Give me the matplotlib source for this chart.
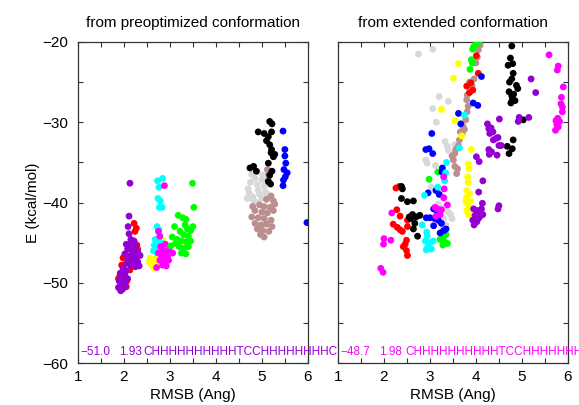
import matplotlib
matplotlib.use("Agg")
import matplotlib.pyplot as plt

plt.rcParams['font.family'] = ['Liberation Sans', 'DejaVu Sans']

# ---------------- Left panel: from preoptimized conformation ----------------
L_lightgray = [(4.70,-38.3),(4.75,-37.5),(4.85,-37.0),(4.90,-37.8),(4.72,-38.8),(4.80,-39.3),(4.92,-38.5),
               (5.00,-37.2),(5.05,-38.0),(4.82,-39.8),(4.95,-39.0),(5.08,-38.7),(4.88,-40.0),(5.00,-39.5),
               (5.12,-39.0),(4.78,-36.5),(4.68,-39.5),(5.02,-36.6),(4.90,-36.2)]
L_rosybrown = [(5.12,-35.9),(5.14,-37.2),(5.15,-36.5),(5.20,-39.2),(5.10,-39.6),(5.25,-39.8),(4.95,-40.3),
               (5.05,-40.5),(5.18,-40.6),(4.85,-41.0),(5.00,-41.2),(5.12,-41.3),(5.25,-41.0),(4.78,-41.8),
               (4.92,-41.9),(5.05,-42.0),(5.20,-42.2),(4.85,-42.6),(4.98,-42.8),(5.10,-42.7),(5.22,-43.0),
               (4.90,-43.3),(5.02,-43.5),(5.15,-43.6),(4.97,-44.0),(5.05,-44.3),(4.80,-40.5),(5.28,-40.2)]
L_black = [(5.17,-29.9),(5.22,-30.2),(5.21,-31.2),(4.92,-31.2),(5.05,-31.4),(5.14,-31.8),(5.10,-32.3),
           (5.17,-32.8),(5.21,-33.4),(5.25,-34.3),(5.14,-35.1),(4.74,-35.7),(4.82,-35.5),(4.88,-36.1),
           (5.17,-36.6),(5.22,-36.1),(5.14,-37.4),(5.19,-37.7),(5.28,-34.0),(5.20,-33.8)]
L_blue = [(5.46,-31.1),(5.50,-33.4),(5.50,-34.2),(5.52,-35.1),(5.48,-35.9),(5.55,-36.3),(5.51,-36.8),
          (5.47,-37.2),(5.46,-37.9),(5.98,-42.5)]
L_red = [(2.22,-42.6),(2.27,-43.2),(2.24,-43.6),(2.28,-45.3),(2.30,-45.8),(2.20,-46.5),(1.98,-46.9),
         (2.12,-47.2),(1.95,-47.8),(2.25,-47.8),(2.13,-48.4),(1.91,-49.2),(2.06,-49.8),(1.98,-50.2),
         (2.05,-50.5),(1.88,-49.5)]
L_purple = [(2.13,-37.6),(2.11,-41.7),(2.09,-43.0),(2.11,-43.9),(2.15,-44.6),(2.22,-44.8),(2.05,-45.2),
            (2.12,-45.3),(2.25,-45.5),(2.08,-45.8),(2.18,-46.0),(2.30,-46.2),(2.02,-46.4),(2.14,-46.6),
            (2.26,-46.8),(2.35,-46.6),(2.10,-47.0),(2.20,-47.2),(2.30,-47.4),(2.05,-47.6),(2.15,-47.8),
            (2.25,-48.0),(2.33,-47.9),(1.98,-48.2),(2.05,-48.5),(1.92,-48.8),(2.02,-49.0),(1.95,-49.3),
            (2.08,-49.5),(1.90,-49.8),(2.00,-50.0),(1.93,-50.3),(2.03,-50.4),(1.88,-50.6),(1.97,-50.8),
            (1.93,-51.0)]
L_yellow = [(2.57,-46.9),(2.62,-47.3),(2.60,-47.8),(2.66,-48.2),(2.72,-47.9),(2.85,-44.7),(2.55,-47.4),
            (2.68,-47.0),(2.75,-47.6)]
L_cyan = [(2.73,-37.3),(2.84,-37.0),(2.76,-38.1),(2.74,-39.5),(2.79,-39.8),(2.77,-40.6),(2.83,-40.6),
          (2.72,-43.0),(2.76,-43.4),(2.68,-44.6),(2.75,-44.8),(2.82,-45.0),(2.66,-45.3),(2.72,-45.5),
          (2.80,-45.6),(2.64,-46.0),(2.70,-46.2),(2.77,-45.9),(2.85,-45.3)]
L_magenta = [(2.88,-37.9),(2.75,-43.6),(2.78,-44.2),(2.80,-45.5),(2.90,-45.2),(2.98,-45.9),(2.85,-46.0),
             (2.75,-46.3),(2.92,-46.4),(3.06,-46.3),(2.82,-46.8),(2.95,-46.8),(2.78,-47.2),(2.88,-47.4),
             (2.97,-47.2),(2.84,-47.8),(2.71,-48.1),(2.92,-47.9)]
L_green = [(3.49,-37.6),(3.52,-40.6),(3.18,-41.6),(3.28,-41.9),(3.35,-42.1),(3.10,-43.0),(3.33,-42.8),
           (3.38,-43.3),(3.22,-43.6),(3.45,-43.5),(3.05,-44.3),(3.30,-44.0),(3.40,-44.2),(3.15,-44.6),
           (3.25,-44.8),(3.35,-44.9),(3.12,-45.1),(3.45,-44.8),(3.20,-45.5),(3.30,-45.7),(3.40,-45.5),
           (3.25,-46.3),(3.35,-46.4),(3.02,-45.4),(3.50,-43.0)]

# ---------------- Right panel: from extended conformation ----------------
R_lightgray = [(2.75,-21.5),(3.06,-20.9),(3.20,-26.8),(3.40,-27.4),(3.06,-28.3),(3.14,-30.0),(3.33,-32.4),
               (3.38,-33.0),(3.54,-32.8),(3.40,-33.5),(2.91,-34.7),(2.94,-35.1),(3.12,-35.4),(3.03,-38.1),
               (3.22,-38.8),(3.30,-39.5),(3.18,-40.2),(3.35,-40.5),(3.25,-41.0),(3.40,-41.2),(3.15,-41.8),
               (3.30,-42.0),(3.45,-41.5),(3.22,-42.5),(3.35,-42.8),(3.28,-43.2),(3.48,-42.0)]
R_rosybrown = [(4.09,-20.4),(4.05,-21.0),(4.03,-21.9),(4.00,-22.6),(3.96,-24.6),(3.92,-25.5),(3.81,-26.6),
               (3.80,-27.2),(3.83,-28.0),(3.81,-28.7),(3.78,-29.7),(3.72,-30.5),(3.75,-30.9),(3.70,-31.5),
               (3.64,-32.2),(3.62,-32.9),(3.56,-33.4),(3.54,-33.9),(3.51,-34.7),(3.54,-35.5),(3.58,-36.4),
               (3.60,-35.8),(3.48,-34.2),(3.66,-31.2),(3.86,-25.0)]
R_green = [(4.01,-20.2),(4.06,-20.0),(3.95,-20.6),(3.93,-20.9),(3.90,-22.2),(3.92,-22.6),(3.87,-23.4),
           (2.98,-37.1),(3.17,-36.2),(3.25,-43.8),(3.30,-44.2),(3.35,-44.0),(3.22,-44.6),(3.32,-44.9),
           (3.38,-45.1),(3.28,-45.3)]
R_red = [(4.01,-21.7),(4.05,-23.9),(3.89,-25.1),(3.80,-25.5),(3.93,-26.0),(3.86,-26.3),(2.26,-38.2),
         (2.33,-38.0),(2.28,-40.9),(2.35,-41.7),(2.51,-42.2),(2.29,-43.1),(2.35,-43.4),(2.40,-43.6),
         (2.51,-43.0),(2.49,-44.7),(2.42,-45.5),(2.49,-46.0),(2.51,-46.6),(2.46,-45.2),(2.20,-42.7)]
R_blue = [(4.12,-24.3),(3.94,-27.6),(4.04,-27.9),(3.62,-28.9),(3.67,-30.2),(3.04,-31.4),(2.91,-33.4),
          (2.98,-33.3),(3.06,-33.9),(3.27,-35.7),(3.26,-36.2),(2.96,-38.8),(3.13,-38.5),(3.08,-40.8),
          (3.15,-41.0),(3.20,-41.4),(2.92,-41.9),(3.00,-41.9),(3.10,-42.0),(3.18,-42.2),(3.25,-42.6),
          (3.08,-42.9),(3.30,-43.5),(3.22,-43.8),(3.35,-43.3),(3.20,-39.0)]
R_cyan = [(3.75,-29.1),(3.64,-33.2),(3.36,-35.0),(3.30,-36.8),(3.32,-37.3),(3.34,-36.3),(3.17,-38.1),
          (2.88,-39.1),(2.83,-42.8),(2.93,-43.7),(2.94,-44.2),(2.90,-44.8),(3.00,-45.0),(3.07,-44.8),
          (2.95,-45.5),(3.03,-45.8),(2.92,-45.9)]
R_yellow = [(3.62,-22.7),(3.51,-24.5),(3.25,-28.4),(3.54,-29.8),(3.69,-31.7),(3.90,-33.4),(3.83,-35.2),
            (3.85,-35.8),(3.82,-36.8),(3.83,-37.5),(3.80,-38.5),(3.86,-38.9),(3.79,-39.4),(3.88,-39.8),
            (3.82,-40.2),(3.86,-40.6),(3.80,-41.0),(3.84,-41.5),(3.78,-39.9)]
R_black = [(4.78,-20.5),(4.75,-22.0),(4.70,-22.9),(4.80,-22.7),(4.81,-23.9),(4.78,-24.6),(4.73,-25.0),
           (4.88,-25.4),(4.91,-25.8),(4.72,-26.2),(4.78,-26.7),(4.82,-26.5),(4.79,-27.2),(4.76,-27.6),
           (4.85,-27.3),(5.03,-29.7),(4.81,-32.2),(4.68,-33.0),(4.79,-33.3),(4.72,-33.9),(2.38,-38.0),
           (2.40,-38.3),(2.38,-39.5),(2.51,-39.9),(2.64,-39.8),(2.62,-41.5),(2.70,-41.8),(2.78,-41.6),
           (2.67,-42.6),(2.58,-42.0),(2.64,-43.3),(2.73,-44.2),(2.55,-41.8)]
R_purple = [(5.20,-24.6),(5.30,-26.3),(4.94,-29.4),(5.15,-29.4),(4.92,-29.9),(4.51,-29.6),(4.25,-30.2),
            (4.28,-30.8),(4.33,-30.7),(4.37,-31.2),(4.30,-31.4),(4.38,-32.2),(4.44,-32.0),(4.48,-31.9),
            (4.50,-32.9),(4.55,-32.9),(4.29,-34.0),(4.34,-33.7),(4.46,-34.1),(4.28,-33.4),(4.01,-34.3),
            (4.07,-34.9),(4.15,-37.3),(4.06,-38.7),(4.14,-40.1),(4.48,-40.8),(4.50,-40.4),(3.95,-40.8),
            (4.02,-41.0),(4.10,-41.2),(3.98,-41.6),(4.08,-41.8),(4.15,-41.5),(3.93,-42.2),(4.02,-42.4),
            (3.96,-42.8),(4.05,-42.0),(4.12,-40.8)]
R_magenta = [(5.59,-21.6),(5.79,-23.0),(5.77,-23.5),(5.90,-25.6),(5.86,-26.9),(5.85,-27.7),(5.88,-28.1),
             (5.88,-28.7),(5.78,-29.5),(5.74,-29.8),(5.82,-29.9),(5.76,-30.3),(5.79,-30.6),(5.73,-31.0),
             (3.30,-36.8),(3.31,-38.3),(3.30,-39.4),(3.38,-40.3),(3.11,-40.6),(3.16,-40.8),(3.22,-41.5),
             (3.13,-41.7),(3.25,-40.9),(2.17,-41.3),(2.00,-44.5),(1.99,-45.2),(2.15,-44.7),(1.93,-48.2),
             (1.98,-48.7)]

titles = ["from preoptimized conformation", "from extended conformation"]
best_E = ["\u221251.0", "\u221248.7"]
best_rmsb = ["1.93", "1.98"]
best_ss = ["CHHHHHHHHHHTCCHHHHHHHHC", "CHHHHHHHHHHTCCHHHHHHHHC"]
best_colors = ["#9400D3", "#FF00FF"]

colors = {
    'lightgray': '#D8D8D8', 'rosybrown': '#BC8F8F', 'black': '#000000', 'blue': '#0000FF',
    'red': '#FF0000', 'purple': '#9400D3', 'yellow': '#FFFF00', 'cyan': '#00FFFF',
    'magenta': '#FF00FF', 'green': '#00FF00',
}
left_series = [('lightgray', L_lightgray), ('rosybrown', L_rosybrown), ('black', L_black),
               ('blue', L_blue), ('red', L_red), ('purple', L_purple), ('yellow', L_yellow),
               ('cyan', L_cyan), ('magenta', L_magenta), ('green', L_green)]
right_series = [('lightgray', R_lightgray), ('rosybrown', R_rosybrown), ('green', R_green),
                ('red', R_red), ('blue', R_blue), ('cyan', R_cyan), ('yellow', R_yellow),
                ('black', R_black), ('purple', R_purple), ('magenta', R_magenta)]

fig = plt.figure(figsize=(5.79, 4.05), dpi=100)
ax1 = fig.add_axes([0.1347, 0.1037, 0.397, 0.7926])
ax2 = fig.add_axes([0.5838, 0.1037, 0.397, 0.7926])

for i, (ax, series) in enumerate([(ax1, left_series), (ax2, right_series)]):
    for name, pts in series:
        xs = [p[0] for p in pts]
        ys = [p[1] for p in pts]
        ax.scatter(xs, ys, s=24, color=colors[name], edgecolors='none', zorder=3)
    ax.set_xlim(1, 6)
    ax.set_ylim(-60, -20)
    ax.set_xticks([1, 2, 3, 4, 5, 6])
    ax.set_xticks([1.5, 2.5, 3.5, 4.5, 5.5], minor=True)
    ax.set_yticks([-60, -50, -40, -30, -20])
    ax.set_yticks([-55, -45, -35, -25], minor=True)
    ax.tick_params(which='both', direction='in', top=True, right=True, length=3.5,
                   width=0.8, color='#333333', labelsize=11)
    ax.tick_params(axis='x', which='both', pad=5)
    ax.tick_params(axis='y', which='both', pad=7)
    for sp in ax.spines.values():
        sp.set_color('#333333')
        sp.set_linewidth(0.9)
    ax.set_xlabel("RMSB (Ang)", fontsize=11, labelpad=3)
    ax.set_title(titles[i], fontsize=11, pad=11)
    yt = 0.034
    ax.text(0.009, yt, best_E[i], transform=ax.transAxes, color=best_colors[i],
            fontsize=8.5, va='center', ha='left', clip_on=False)
    ax.text(0.178, yt, best_rmsb[i], transform=ax.transAxes, color=best_colors[i],
            fontsize=8.5, va='center', ha='left', clip_on=False)
    ax.text(0.283 if i == 0 else 0.291, yt, best_ss[i], transform=ax.transAxes,
            color=best_colors[i], fontsize=8.5, va='center', ha='left', clip_on=False)

ax1.set_yticklabels(["\u221260", "\u221250", "\u221240", "\u221230", "\u221220"])
ax1.set_xticklabels(["1", "2", "3", "4", "5", "6"])
ax2.set_xticklabels(["1", "2", "3", "4", "5", "6"])
ax2.set_yticklabels([])
ax1.set_ylabel("E (kcal/mol)", fontsize=11, labelpad=2)

fig.savefig("out.png", dpi=100)
